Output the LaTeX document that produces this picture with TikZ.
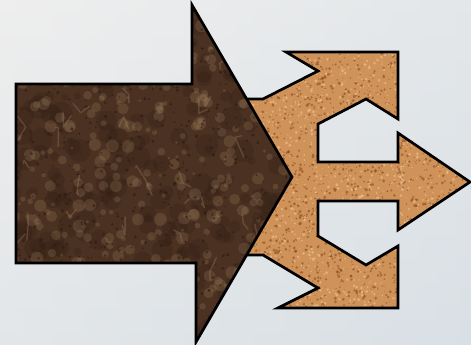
\documentclass[tikz,border=0pt]{standalone}
\usetikzlibrary{calc}

\definecolor{bgLeft}{HTML}{EEEEEE}
\definecolor{bgRight}{HTML}{D9E0E5}
\definecolor{corkBase}{HTML}{CF935A}
\definecolor{corkDark}{HTML}{8A4C20}
\definecolor{corkLight}{HTML}{F0C696}
\definecolor{marbleBase}{HTML}{4B3122}
\definecolor{marbleDark}{HTML}{2B1A10}
\definecolor{marbleVein}{HTML}{A88A66}

% outlines of the two arrows (pixel units, y downwards)
\newcommand\corkshape{(230,99) -- (263,99) -- (318,71) -- (286,52) -- (398,52)
  -- (398,119) -- (366,99) -- (318,124) -- (318,162) -- (398,162) -- (398,133)
  -- (470,182) -- (398,230) -- (398,201) -- (318,201) -- (318,236) -- (366,265)
  -- (398,246) -- (398,308) -- (278,308) -- (318,288) -- (263,255) -- (230,255) -- cycle}
\newcommand\marbleshape{(16,84) -- (192,84) -- (192,5) -- (292,177) -- (196,342)
  -- (196,263) -- (16,263) -- cycle}

\begin{document}
\begin{tikzpicture}[
  x=0.03cm, y=-0.03cm,
  outline/.style={draw=black, line width=2.3pt, line join=miter},
  speck/.style={fill=#1, opacity=0.6},
  blob/.style={fill=#1, opacity=0.22},
  vein/.style={draw=marbleVein, opacity=0.3, line width=1.2pt, line cap=round, line join=round}
]
\pgfmathsetseed{11}
\useasboundingbox (0,0) rectangle (471,345);

% Background
\shade[left color=bgLeft, right color=bgRight] (0,0) rectangle (471,345);
\shade[top color=bgLeft, bottom color=bgRight, opacity=0.5] (0,0) rectangle (471,345);

% Cork trident arrow (behind)
\begin{scope}
  \clip \corkshape;
  \fill[corkBase] (225,45) rectangle (471,315);
  \foreach \i in {1,...,2200}
    \fill[speck=corkDark] (225+rnd*246, 45+rnd*270) circle (0.5+rnd*1.2);
  \foreach \i in {1,...,1400}
    \fill[speck=corkLight] (225+rnd*246, 45+rnd*270) circle (0.5+rnd*1.1);
\end{scope}
\draw[outline] \corkshape;

% Dark marble arrow (front)
\begin{scope}
  \clip \marbleshape;
  \fill[marbleBase] (10,0) rectangle (300,345);
  \foreach \i in {1,...,300}
    \fill[blob=marbleDark] (10+rnd*290, rnd*345) circle (3+rnd*9);
  \foreach \i in {1,...,450}
    \fill[blob=marbleVein] (10+rnd*290, rnd*345) circle (1.5+rnd*5);
  \foreach \i in {1,...,700}
    \fill[speck=marbleDark] (10+rnd*290, rnd*345) circle (0.6+rnd*1.2);
  \foreach \i in {1,...,40}
    \draw[vein] (10+rnd*290, rnd*345) -- ++(rnd*20-10, rnd*40-20) -- ++(rnd*16-8, rnd*30-15);
\end{scope}
\draw[outline] \marbleshape;

\end{tikzpicture}
\end{document}
